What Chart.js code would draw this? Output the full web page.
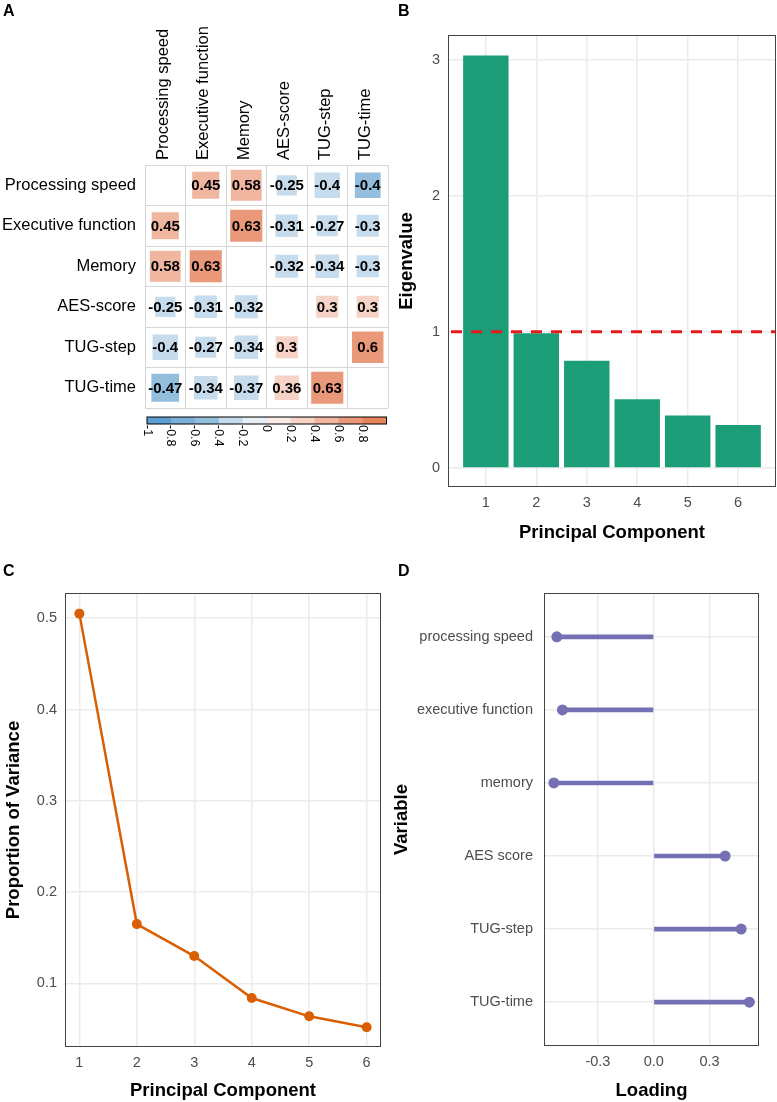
<!DOCTYPE html>
<html>
<head>
<meta charset="utf-8">
<script src="https://cdn.jsdelivr.net/npm/chart.js@4.4.0/dist/chart.umd.min.js"></script>
<style>
body { margin: 0; background: #fff; }
#page { position: relative; width: 777px; height: 1102px; overflow: hidden; font-family: "Liberation Sans", Arial, sans-serif; }
canvas { position: absolute; }
.tag { position: absolute; font-weight: bold; font-size: 16px; line-height: 16px; color: #000; }
</style>
</head>
<body>
<div id="page">
  <canvas id="corrChart" width="390" height="455" style="left:0;top:0"></canvas>
  <canvas id="eigenChart" width="397" height="555" style="left:380px;top:0"></canvas>
  <canvas id="varChart" width="390" height="542" style="left:0;top:560px"></canvas>
  <canvas id="loadChart" width="387" height="542" style="left:390px;top:560px"></canvas>
  <div class="tag" style="left:3px;top:3px">A</div>
  <div class="tag" style="left:398px;top:3px">B</div>
  <div class="tag" style="left:3px;top:563px">C</div>
  <div class="tag" style="left:398px;top:563px">D</div>
</div>
<script>
// ---- data ----
const variables = ['Processing speed', 'Executive function', 'Memory', 'AES-score', 'TUG-step', 'TUG-time'];
// 相關矩陣 (對角線留空)
const corrMatrix = [
    [null, 0.45, 0.58, -0.25, -0.396, -0.404],
    [0.45, null, 0.63, -0.31, -0.27, -0.3],
    [0.58, 0.63, null, -0.32, -0.34, -0.3],
    [-0.25, -0.31, -0.32, null, 0.3, 0.3],
    [-0.396, -0.27, -0.34, 0.3, null, 0.603],
    [-0.47, -0.34, -0.37, 0.36, 0.63, null]
];
const colorbarTicks = [-1, -0.8, -0.6, -0.4, -0.2, 0, 0.2, 0.4, 0.6, 0.8];

const components = [1, 2, 3, 4, 5, 6];
const eigenvalues = [3.03, 0.99, 0.787, 0.505, 0.385, 0.316];
const kaiserLine = 1;
const varianceProportion = [0.505, 0.165, 0.130, 0.084, 0.064, 0.052];

const loadingVars = ['processing speed', 'executive function', 'memory', 'AES score', 'TUG-step', 'TUG-time'];
const loadings = [-0.521, -0.491, -0.537, 0.384, 0.470, 0.514];

// ---- styles ----
const corrPalette = ['#5f9ed1', '#7db0d8', '#93bedd', '#c6dcec', '#e6eef5', '#f9ece7', '#f6d3c6', '#f0b6a0', '#ea987a', '#e6825c'];
const gridGrey = '#ebebeb';
const tickGrey = '#4d4d4d';
const FONT = '"Liberation Sans", Arial, Helvetica, sans-serif';

Chart.defaults.font.family = FONT;
Chart.defaults.animation = false;
Chart.defaults.events = [];
Chart.defaults.plugins.legend.display = false;
Chart.defaults.plugins.tooltip.enabled = false;

function binColor(v) {
    let k = Math.floor((v + 1) / 0.2);
    k = Math.max(0, Math.min(corrPalette.length - 1, k));
    return corrPalette[k];
}

function formatR(v) {
    return String(Number(v.toFixed(2)));
}

// 外框
const panelBorder = {
    id: 'panelBorder',
    afterDraw(chart) {
        const {ctx, chartArea: a} = chart;
        ctx.save();
        ctx.strokeStyle = '#444';
        ctx.lineWidth = 1;
        ctx.strokeRect(Math.round(a.left) + 0.5, Math.round(a.top) + 0.5,
            Math.round(a.right) - Math.round(a.left) - 1, Math.round(a.bottom) - Math.round(a.top) - 1);
        ctx.restore();
    }
};

// === A: correlation matrix ===
const corrPoints = [];
corrMatrix.forEach((row, i) => {
    row.forEach((v, j) => {
        if (v !== null) corrPoints.push({x: variables[j], y: variables[i], v: v});
    });
});

const cellLabels = {
    id: 'cellLabels',
    afterDatasetsDraw(chart) {
        const ctx = chart.ctx;
        const meta = chart.getDatasetMeta(0);
        ctx.save();
        ctx.font = 'bold 15px ' + FONT;
        ctx.fillStyle = '#000';
        ctx.textAlign = 'center';
        ctx.textBaseline = 'middle';
        meta.data.forEach((pt, k) => {
            ctx.fillText(formatR(corrPoints[k].v), pt.x, pt.y + 1);
        });
        ctx.restore();
    }
};

// 上方直排欄位標籤
const columnLabels = {
    id: 'columnLabels',
    afterDraw(chart) {
        const {ctx, chartArea: a, scales} = chart;
        ctx.save();
        ctx.font = '16.5px ' + FONT;
        ctx.fillStyle = '#000';
        ctx.textAlign = 'left';
        ctx.textBaseline = 'middle';
        variables.forEach((name, i) => {
            ctx.save();
            ctx.translate(scales.x.getPixelForValue(i) - 2, a.top - 5);
            ctx.rotate(-Math.PI / 2);
            ctx.fillText(name, 0, 0);
            ctx.restore();
        });
        ctx.restore();
    }
};

const colorBar = {
    id: 'colorBar',
    afterDraw(chart) {
        const {ctx, chartArea: a} = chart;
        const left = a.left + 2, right = a.right - 1.5;
        const top = a.bottom + 9, h = 7;
        const w = right - left;
        const seg = w / corrPalette.length;
        ctx.save();
        corrPalette.forEach((c, k) => {
            ctx.fillStyle = c;
            ctx.fillRect(left + k * seg, top, seg + 0.5, h);
        });
        ctx.strokeStyle = '#000';
        ctx.lineWidth = 1;
        ctx.strokeRect(left, top, w, h);
        ctx.fillStyle = '#000';
        ctx.font = '12.5px ' + FONT;
        ctx.textAlign = 'left';
        ctx.textBaseline = 'middle';
        colorbarTicks.forEach(t => {
            const x = left + (t + 1) / 2 * w;
            ctx.save();
            ctx.translate(x, top + h + 1);
            ctx.rotate(Math.PI / 2);
            ctx.fillText(String(t), 0, 0);
            ctx.restore();
        });
        ctx.restore();
    }
};

const corrGrid = {offset: true, color: '#d6d6d6', lineWidth: 1, drawTicks: false};

new Chart(document.getElementById('corrChart'), {
    type: 'scatter',
    data: {
        datasets: [{
            data: corrPoints,
            pointStyle: 'rect',
            pointBorderWidth: 0,
            pointBackgroundColor: ctx => binColor(ctx.raw.v),
            pointRadius: ctx => {
                const cell = ctx.chart.scales.x.width / variables.length;
                return cell * Math.sqrt(Math.abs(ctx.raw.v)) / Math.SQRT2;
            }
        }]
    },
    options: {
        responsive: false,
        layout: {padding: {top: 0, left: 0, right: 2, bottom: 47}},
        scales: {
            x: {
                type: 'category', labels: variables, position: 'top', offset: true,
                grid: corrGrid,
                border: {display: true, color: '#d6d6d6'},
                ticks: {display: false},
                afterFit: s => { s.height = 165; }
            },
            y: {
                type: 'category', labels: variables, offset: true,
                grid: corrGrid,
                border: {display: true, color: '#d6d6d6'},
                ticks: {color: '#000', padding: 9, font: {size: 16.5}},
                afterFit: s => { s.width = 145; }
            }
        }
    },
    plugins: [cellLabels, columnLabels, colorBar]
});

// === B: scree bar chart ===
const kaiserPlugin = {
    id: 'kaiser',
    afterDatasetsDraw(chart) {
        const {ctx, chartArea, scales} = chart;
        const y = scales.y.getPixelForValue(kaiserLine);
        ctx.save();
        ctx.strokeStyle = '#e8191c';
        ctx.lineWidth = 3;
        ctx.setLineDash([11, 9]);
        ctx.lineDashOffset = -3;
        ctx.beginPath();
        ctx.moveTo(chartArea.left, y);
        ctx.lineTo(chartArea.right, y);
        ctx.stroke();
        ctx.restore();
    }
};

const softGrid = {color: gridGrey, lineWidth: 1.5, drawTicks: false, offset: false};
const tickFont = {size: 14.5};
const titleFont = {size: 18.5, weight: 'bold'};

new Chart(document.getElementById('eigenChart'), {
    type: 'bar',
    data: {
        datasets: [{
            data: components.map((c, i) => ({x: c, y: eigenvalues[i]})),
            backgroundColor: '#1b9e77',
            borderWidth: 0,
            barPercentage: 0.9,
            categoryPercentage: 1
        }]
    },
    options: {
        responsive: false,
        layout: {padding: {top: 35, left: 0, right: 1, bottom: 0}},
        scales: {
            x: {
                type: 'linear', min: 0.25, max: 6.75, offset: false,
                grid: softGrid, border: {display: false},
                ticks: {stepSize: 1, includeBounds: false, color: tickGrey, padding: 7, font: tickFont},
                title: {display: true, text: 'Principal Component', color: '#000', font: titleFont, padding: {top: 0, bottom: 11}},
                afterFit: s => { s.height = 68; }
            },
            y: {
                type: 'linear', min: -0.14, max: 3.18, offset: false,
                grid: softGrid, border: {display: false},
                ticks: {stepSize: 1, includeBounds: false, color: tickGrey, padding: 8, font: tickFont},
                title: {display: true, text: 'Eigenvalue', color: '#000', font: titleFont, padding: {top: 16, bottom: 0}},
                afterFit: s => { s.width = 68; }
            }
        }
    },
    plugins: [kaiserPlugin, panelBorder]
});

// === C: proportion of variance ===
new Chart(document.getElementById('varChart'), {
    type: 'line',
    data: {
        datasets: [{
            data: components.map((c, i) => ({x: c, y: varianceProportion[i]})),
            borderColor: '#d95f02',
            borderWidth: 2.5,
            backgroundColor: '#d95f02',
            pointBackgroundColor: '#d95f02',
            pointBorderWidth: 0,
            pointRadius: 5,
            tension: 0
        }]
    },
    options: {
        responsive: false,
        layout: {padding: {top: 33, left: 0, right: 9, bottom: 0}},
        scales: {
            x: {
                type: 'linear', min: 0.75, max: 6.25, offset: false,
                grid: softGrid, border: {display: false},
                ticks: {stepSize: 1, includeBounds: false, color: tickGrey, padding: 7, font: tickFont},
                title: {display: true, text: 'Principal Component', color: '#000', font: titleFont, padding: {top: 0, bottom: 0}},
                afterFit: s => { s.height = 55; }
            },
            y: {
                type: 'linear', min: 0.0304, max: 0.5276, offset: false,
                grid: softGrid, border: {display: false},
                ticks: {stepSize: 0.1, includeBounds: false, color: tickGrey, padding: 8, font: tickFont},
                title: {display: true, text: 'Proportion of Variance', color: '#000', font: titleFont, padding: {top: 3, bottom: 0}},
                afterFit: s => { s.width = 65; }
            }
        }
    },
    plugins: [panelBorder]
});

// === D: loadings lollipop ===
new Chart(document.getElementById('loadChart'), {
    type: 'scatter',
    data: {
        datasets: [{
            type: 'bar',
            indexAxis: 'y',
            data: loadingVars.map((_, i) => ({x: [0, loadings[i]], y: i + 1})),
            backgroundColor: '#7570b3',
            borderWidth: 0,
            barThickness: 4,
            order: 2
        }, {
            type: 'scatter',
            data: loadingVars.map((_, i) => ({x: loadings[i], y: i + 1})),
            backgroundColor: '#7570b3',
            pointBackgroundColor: '#7570b3',
            pointBorderWidth: 0,
            pointRadius: 5.5,
            order: 1
        }]
    },
    options: {
        responsive: false,
        layout: {padding: {top: 33, left: 0, right: 18, bottom: 0}},
        scales: {
            x: {
                type: 'linear', min: -0.59, max: 0.566, offset: false,
                grid: softGrid, border: {display: false},
                ticks: {stepSize: 0.3, includeBounds: false, color: tickGrey, padding: 7, font: tickFont,
                    callback: v => v.toFixed(1)},
                title: {display: true, text: 'Loading', color: '#000', font: titleFont, padding: {top: 0, bottom: 0}},
                afterFit: s => { s.height = 56; }
            },
            y: {
                type: 'linear', min: 0.4, max: 6.6, reverse: true, offset: false,
                grid: softGrid, border: {display: false},
                ticks: {stepSize: 1, includeBounds: false, color: tickGrey, padding: 11, font: tickFont,
                    callback: v => loadingVars[v - 1]},
                title: {display: true, text: 'Variable', color: '#000', font: titleFont, padding: {top: 1, bottom: 0}},
                afterFit: s => { s.width = 154; }
            }
        }
    },
    plugins: [panelBorder]
});
</script>
</body>
</html>
